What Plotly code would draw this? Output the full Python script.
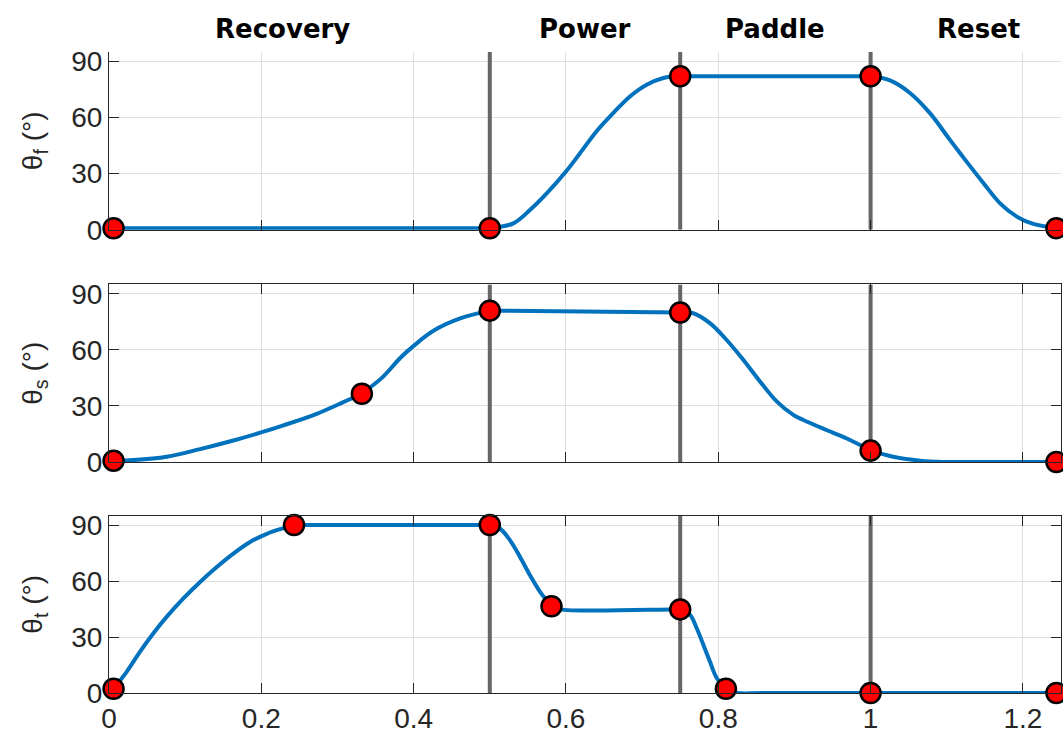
import plotly.graph_objects as go

# Phase boundaries (normalised cycle time) and phase names with label positions
phase_bounds = [0.5, 0.75, 1.0]
phase_names = ["Recovery", "Power", "Paddle", "Reset"]
phase_label_x = [0.228, 0.625, 0.874, 1.142]

# θf : flap angle
f_t = [0.006, 0.5, 0.531, 0.553, 0.575, 0.600, 0.6185, 0.640, 0.662, 0.684, 0.706,
       0.728, 0.75, 1.0, 1.0254, 1.0517, 1.0779, 1.1042, 1.126, 1.148, 1.170, 1.192,
       1.2136, 1.244]
f_deg = [0.8, 0.8, 3.4, 10.6, 19.5, 31.1, 40.9, 52.5, 62.3, 71.2, 77.5,
         81.1, 82.0, 82.0, 79.8, 73.1, 62.3, 48.0, 36.4, 25.0, 14.1, 7.0,
         3.1, 0.8]
f_key_t = [0.006, 0.5, 0.75, 1.0, 1.244]
f_key_deg = [0.8, 0.8, 82.0, 82.0, 0.8]

# θs : sweep angle
s_t = [0.006, 0.032, 0.0759, 0.1196, 0.1633, 0.1997, 0.229, 0.2728, 0.3077, 0.332,
       0.360, 0.382, 0.3996, 0.426, 0.461, 0.5, 0.75, 0.767, 0.789, 0.811, 0.833,
       0.855, 0.877, 0.8985, 0.9117, 0.942, 0.973, 1.0, 1.0298, 1.065, 1.0955,
       1.12, 1.244]
s_deg = [0.7, 1.0, 2.8, 6.9, 11.5, 15.8, 19.6, 25.8, 32.0, 36.5,
         45.7, 55.5, 62.0, 70.2, 76.8, 81.0, 80.0, 79.6, 74.3, 65.3, 54.6,
         43.0, 32.3, 25.2, 22.5, 17.1, 11.8, 6.1, 2.8, 0.7, 0.0,
         0.0, 0.0]
s_key_t = [0.006, 0.332, 0.5, 0.75, 1.0, 1.244]
s_key_deg = [0.7, 36.5, 81.0, 80.0, 6.1, 0.0]

# θt : twist angle
t_t = [0.006, 0.0234, 0.0408, 0.0583, 0.0759, 0.0977, 0.1196, 0.1415, 0.1633, 0.1852,
       0.2072, 0.229, 0.243, 0.5, 0.5135, 0.5266, 0.5397, 0.5528, 0.566, 0.581,
       0.592, 0.74, 0.75, 0.7629, 0.7717, 0.7804, 0.789, 0.798, 0.81, 0.825, 0.86,
       1.244]
t_deg = [2.3, 11.5, 22.2, 32.0, 40.9, 50.7, 59.5, 67.5, 74.7, 80.9,
         85.3, 88.3, 90.0, 90.0, 88.0, 81.8, 72.9, 63.1, 54.2, 46.5,
         44.8, 44.8, 44.8, 41.8, 34.7, 25.8, 16.9, 8.0, 2.3, 0.0, 0.0,
         0.0]
t_key_t = [0.006, 0.243, 0.5, 0.581, 0.75, 0.81, 1.0, 1.244]
t_key_deg = [2.3, 90.0, 90.0, 46.5, 44.8, 2.3, 0.0, 0.0]

y_ticks = [0, 30, 60, 90]
y_max = 95
x_ticks = [0, 0.2, 0.4, 0.6, 0.8, 1.0, 1.2]
x_tick_text = ["0", "0.2", "0.4", "0.6", "0.8", "1", "1.2"]

panels = [
    ("θ<sub>f</sub> (°)", f_t, f_deg, f_key_t, f_key_deg, [0.7228, 1.0]),
    ("θ<sub>s</sub> (°)", s_t, s_deg, s_key_t, s_key_deg, [0.3604, 0.6373]),
    ("θ<sub>t</sub> (°)", t_t, t_deg, t_key_t, t_key_deg, [0.0, 0.2766]),
]

AX = "#262626"
GRID = "#dfdfdf"
TICK_FONT = dict(family="Liberation Sans, Arial, sans-serif", size=28, color=AX)
BLUE = "#0072BD"


def split_at_keys(tx, ty, keys):
    """Break a sampled trajectory into pieces that start/end at the key times."""
    pieces, cur_x, cur_y = [], [], []
    for x, y in zip(tx, ty):
        cur_x.append(x)
        cur_y.append(y)
        if x in keys and len(cur_x) > 1:
            pieces.append((cur_x, cur_y))
            cur_x, cur_y = [x], [y]
    if len(cur_x) > 1:
        pieces.append((cur_x, cur_y))
    return pieces


fig = go.Figure()
layout = dict(
    width=1063, height=738,
    margin=dict(l=109, r=2, t=52, b=45),
    paper_bgcolor="white", plot_bgcolor="white",
    showlegend=False,
)

for i, (title, tx, ty, kx, ky, dom) in enumerate(panels):
    n = "" if i == 0 else str(i + 1)
    xa, ya = "x" + n, "y" + n
    # phase boundary lines (drawn first so the curve and markers sit on top)
    for b in phase_bounds:
        fig.add_trace(go.Scatter(
            x=[b, b], y=[0, y_max], xaxis=xa, yaxis=ya, mode="lines",
            line=dict(color="#666666", width=4), hoverinfo="skip"))
    for px_, py_ in split_at_keys(tx, ty, set(kx)):
        fig.add_trace(go.Scatter(
            x=px_, y=py_, xaxis=xa, yaxis=ya, mode="lines",
            line=dict(color=BLUE, width=4, shape="spline", smoothing=1.0),
            cliponaxis=False, hoverinfo="skip"))
    fig.add_trace(go.Scatter(
        x=kx, y=ky, xaxis=xa, yaxis=ya, mode="markers",
        marker=dict(color="#ff0000", size=20, line=dict(color="black", width=2.5)),
        cliponaxis=False))
    boxed = i > 0
    layout["xaxis" + n] = dict(
        domain=[0, 1], anchor=ya, range=[0, 1.25],
        tickvals=x_ticks, ticktext=x_tick_text,
        showticklabels=(i == 2), tickfont=TICK_FONT,
        ticks="inside", ticklen=10, tickwidth=1, tickcolor=AX,
        showline=True, linecolor=AX, linewidth=1,
        mirror="ticks" if boxed else False,
        showgrid=True, gridcolor=GRID, gridwidth=1, zeroline=False,
    )
    layout["yaxis" + n] = dict(
        domain=dom, anchor=xa, range=[0, y_max],
        tickvals=y_ticks, tickfont=TICK_FONT,
        ticks="inside", ticklen=10, tickwidth=1, tickcolor=AX,
        showline=True, linecolor=AX, linewidth=1,
        mirror="ticks" if boxed else False,
        showgrid=True, gridcolor=GRID, gridwidth=1, zeroline=False,
        title=dict(text=title, font=TICK_FONT, standoff=20),
    )

layout["annotations"] = [
    dict(text=name, x=px, xref="x", y=1.036, yref="paper",
         showarrow=False, xanchor="center", yanchor="middle",
         font=dict(family="DejaVu Sans, sans-serif", size=26, color="black",
                   weight="bold"))
    for name, px in zip(phase_names, phase_label_x)
]
fig.update_layout(**layout)
fig.write_html("out.html")
